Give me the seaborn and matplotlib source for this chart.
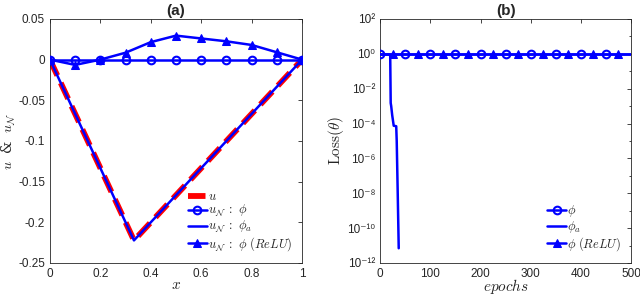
import numpy as np
import matplotlib
matplotlib.use("Agg")
import matplotlib.pyplot as plt
import seaborn as sns
from matplotlib.ticker import LogLocator, NullFormatter

# ---- panel (a) data ----
x_nodes = [0.0, 0.1, 0.2, 0.3, 0.4, 0.5, 0.6, 0.7, 0.8, 0.9, 1.0]
x_exact = [0.0, 1 / 3, 1.0]
u_exact = [0.0, -0.2222, 0.0]
u_phi = [0.0, 0.0, 0.0, 0.0, 0.0, 0.0, 0.0, 0.0, 0.0, 0.0, 0.0]
u_phi_a = [0.0, -0.2222, 0.0]
u_relu = [0.0, -0.0065, 0.0, 0.0085, 0.0215, 0.0295, 0.026, 0.0225, 0.018, 0.009, 0.0]
a_yticks = [-0.25, -0.2, -0.15, -0.1, -0.05, 0.0, 0.05]
a_yticklabels = ['-0.25', '-0.2', '-0.15', '-0.1', '-0.05', '0', '0.05']
a_xticks = [0, 0.2, 0.4, 0.6, 0.8, 1.0]
a_xticklabels = ['0', '0.2', '0.4', '0.6', '0.8', '1']

# ---- panel (b) data ----
ep_marked = [0, 25, 50, 75, 100, 125, 150, 175, 200, 225, 250, 275, 300,
             325, 350, 375, 400, 425, 450, 475, 500]
loss_phi = [0.92, 0.92, 0.92, 0.92, 0.92, 0.92, 0.92, 0.92, 0.92, 0.92, 0.92,
            0.92, 0.92, 0.92, 0.92, 0.92, 0.92, 0.92, 0.92, 0.92, 0.92]
loss_relu = [0.92, 0.92, 0.92, 0.92, 0.92, 0.92, 0.92, 0.92, 0.92, 0.92, 0.92,
             0.92, 0.92, 0.92, 0.92, 0.92, 0.92, 0.92, 0.92, 0.92, 0.92]
ep_phi_a = [0, 10, 20, 21, 22, 24, 26, 27, 32, 33, 35, 37]
loss_phi_a = [0.92, 0.92, 0.9, 1.5e-3, 1.0e-3, 3.0e-4, 1.2e-4, 7.5e-5, 7.0e-5,
              1.0e-5, 1.0e-8, 7.0e-12]
b_yticks = [1e-12, 1e-10, 1e-8, 1e-6, 1e-4, 1e-2, 1e0, 1e2]
b_yticklabels = ['10\u207b\u00b9\u00b2', '10\u207b\u00b9\u2070', '10\u207b\u2078',
                 '10\u207b\u2076', '10\u207b\u2074', '10\u207b\u00b2',
                 '10\u2070', '10\u00b2']
b_xticks = [0, 100, 200, 300, 400, 500]

sns.set_theme(style="white")
plt.rcParams['font.family'] = ['Liberation Sans', 'DejaVu Sans']
plt.rcParams['mathtext.fontset'] = 'cm'

BLUE = (0.0, 0.0, 1.0)
RED = (1.0, 0.0, 0.0)
AX_C = (0.15, 0.15, 0.15)

fig = plt.figure(figsize=(6.4, 2.96), dpi=100)
ax1 = fig.add_axes([0.078, 0.1115, 0.394, 0.8245])
ax2 = fig.add_axes([0.594, 0.1115, 0.392, 0.8245])

leg_kw = dict(loc='lower right', frameon=False, fontsize=9, handlelength=1.5,
              handletextpad=0.1, borderaxespad=0.4, labelspacing=0.0)

# panel (a)
sns.lineplot(x=x_exact, y=u_exact, ax=ax1, color=RED, lw=4.2, label=r'$u$',
             dashes=False, linestyle=(0, (3, 1.4)), zorder=2)
sns.lineplot(x=x_nodes, y=u_phi, ax=ax1, color=BLUE, lw=1.8, marker='o', ms=5.5,
             mfc='none', mec=BLUE, mew=1.5, label=r'$u_{\mathcal{N}}\ :\ \phi$', zorder=3)
sns.lineplot(x=x_exact, y=u_phi_a, ax=ax1, color=BLUE, lw=1.8,
             label=r'$u_{\mathcal{N}}\ :\ \phi_a$', zorder=4)
sns.lineplot(x=x_nodes, y=u_relu, ax=ax1, color=BLUE, lw=1.8, marker='^', ms=6,
             mfc=BLUE, mec=BLUE, label=r'$u_{\mathcal{N}}\ :\ \phi\ (ReLU)$', zorder=5)

ax1.set_xlim(0, 1)
ax1.set_ylim(-0.25, 0.05)
ax1.set_xticks(a_xticks)
ax1.set_xticklabels(a_xticklabels)
ax1.set_yticks(a_yticks)
ax1.set_yticklabels(a_yticklabels)
ax1.set_xlabel(r'$x$', fontsize=11, labelpad=-1)
ax1.set_ylabel(r'$u$  &  $u_{\mathcal{N}}$', fontsize=10, labelpad=0,
               family=['DejaVu Serif'])
ax1.set_title('(a)', fontsize=11, fontweight='bold', pad=3)
ax1.legend(**leg_kw)

# panel (b)
sns.lineplot(x=ep_marked, y=loss_phi, ax=ax2, color=BLUE, lw=1.8, marker='o', ms=5.5,
             mfc='none', mec=BLUE, mew=1.5, markevery=list(range(0, 20, 2)),
             label=r'$\phi$', zorder=3)
sns.lineplot(x=ep_phi_a, y=loss_phi_a, ax=ax2, color=BLUE, lw=1.8,
             label=r'$\phi_a$', zorder=4)
sns.lineplot(x=ep_marked, y=loss_relu, ax=ax2, color=BLUE, lw=1.8, marker='^', ms=6,
             mfc=BLUE, mec=BLUE, markevery=list(range(1, 20, 2)),
             label=r'$\phi\ (ReLU)$', zorder=5)

ax2.set_yscale('log')
ax2.set_xlim(0, 500)
ax2.set_ylim(1e-12, 1e2)
ax2.set_xticks(b_xticks)
ax2.set_yticks(b_yticks)
ax2.set_yticklabels(b_yticklabels)
ax2.yaxis.set_minor_locator(LogLocator(base=10, subs='all', numticks=100))
ax2.yaxis.set_minor_formatter(NullFormatter())
ax2.set_xlabel(r'$epochs$', fontsize=11, labelpad=-2)
ax2.set_ylabel(r'$\mathrm{Loss}(\theta)$', fontsize=11, labelpad=1)
ax2.set_title('(b)', fontsize=11, fontweight='bold', pad=3)
ax2.legend(**leg_kw)

for ax in (ax1, ax2):
    for sp in ax.spines.values():
        sp.set_color(AX_C)
        sp.set_linewidth(0.6)
    ax.tick_params(which='both', direction='in', top=True, right=True,
                   color=AX_C, labelcolor=AX_C, labelsize=8.5, width=0.6)
    ax.tick_params(which='major', length=3)
    ax.tick_params(which='minor', length=1.5)
    ax.grid(False)

fig.savefig('out.png', dpi=100)
